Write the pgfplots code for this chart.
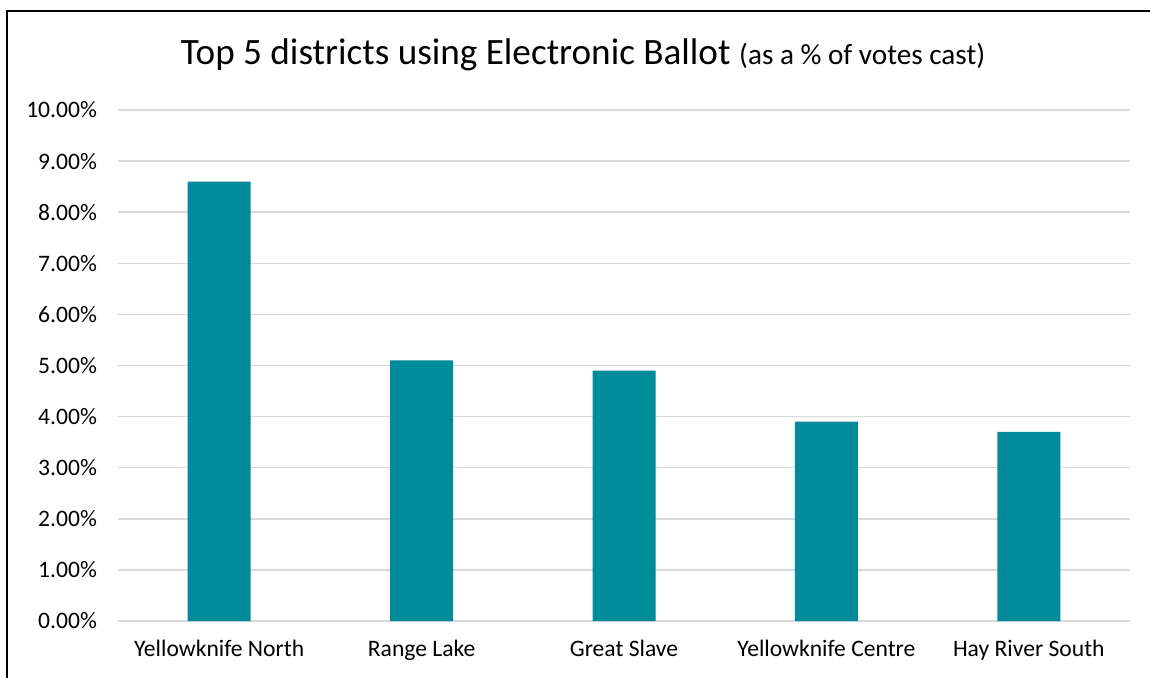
\documentclass[border=0pt]{standalone}
\usepackage{pgfplots}
\pgfplotsset{compat=1.18}
\usepackage{fontspec}
\setmainfont{Carlito}
\definecolor{barteal}{RGB}{0,139,154}
\definecolor{gridgray}{RGB}{217,217,217}
\begin{document}
\begin{tikzpicture}
\useasboundingbox (0,0) rectangle (575pt,-339pt);
\draw[black, line width=1pt] (3.7pt,-339pt) -- (3.7pt,-5.3pt) -- (575pt,-5.3pt);
\node[anchor=base] at (291.5pt,-32.5pt) {\fontsize{18.6}{21}\selectfont Top 5 districts using Electronic Ballot \fontsize{14.6}{17}\selectfont(as a \% of votes cast)};
\begin{axis}[
  at={(59pt,-310.5pt)}, anchor=south west,
  scale only axis, width=506pt, height=255.5pt,
  xmin=-0.5, xmax=4.5, ymin=0, ymax=10,
  axis line style={draw=none},
  ybar, bar width=31.5pt,
  xtick=data,
  xticklabels={Yellowknife North,Range Lake,Great Slave,Yellowknife Centre,Hay River South},
  ytick={0,1,2,3,4,5,6,7,8,9,10},
  yticklabels={0.00\%,1.00\%,2.00\%,3.00\%,4.00\%,5.00\%,6.00\%,7.00\%,8.00\%,9.00\%,10.00\%},
  major tick length=0pt,
  ymajorgrids, grid style={gridgray, line width=0.75pt},
  ticklabel style={font=\fontsize{11.8}{14}\selectfont},
  yticklabel style={xshift=-7pt},
  xticklabel style={yshift=-6pt},
  clip=false,
]
\addplot[fill=barteal, draw=none] coordinates {(0,8.6) (1,5.1) (2,4.9) (3,3.9) (4,3.7)};
\end{axis}
\end{tikzpicture}
\end{document}
